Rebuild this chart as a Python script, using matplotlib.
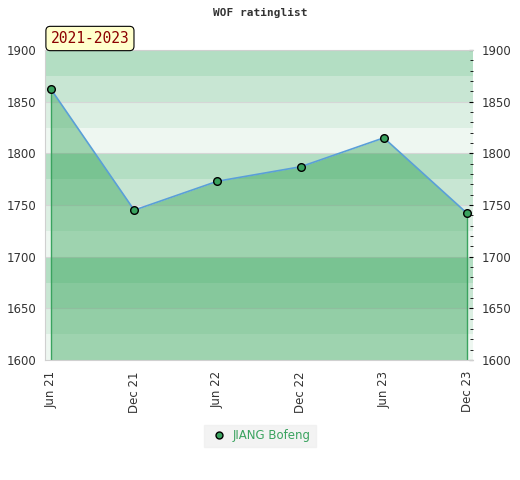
import matplotlib.pyplot as plt
from matplotlib.ticker import MultipleLocator
from matplotlib.lines import Line2D

# rating history
periods = ['Jun 21', 'Dec 21', 'Jun 22', 'Dec 22', 'Jun 23', 'Dec 23']
ratings = [1862, 1745, 1773, 1787, 1815, 1742]
player = 'JIANG Bofeng'
span_label = '2021-2023'

y_min, y_max = 1600, 1900
band_colors = ['#eef7f1', '#dcefe3', '#c8e6d3', '#b3dec3']  # 00-25, 25-50, 50-75, 75-100

fig = plt.figure(figsize=(5.2, 4.8), dpi=100)
ax = fig.add_axes([45 / 520, 1 - 360 / 480, 428 / 520, 310 / 480])

# striped background, 25 points per band
for lo in range(y_min, y_max, 25):
    ax.axhspan(lo, lo + 25, color=band_colors[(lo % 100) // 25], lw=0, zorder=0)
for g in range(y_min + 50, y_max + 1, 50):
    ax.axhline(g, color='#d6d6d6', lw=0.8, zorder=0.5)

x = list(range(len(periods)))
ax.fill_between(x, ratings, y_min, color='#17963e', alpha=0.37, lw=0, zorder=1)
ax.vlines([x[0], x[-1]], y_min, [ratings[0], ratings[-1]], color='#3aa35f', lw=1, zorder=2)
ax.plot(x, ratings, color='#5a9fd8', lw=1.2, zorder=3)
ax.plot(x, ratings, 'o', ms=5.5, mfc='#3aa35f', mec='black', mew=1, zorder=4)

ax.set_xlim(-0.072, 5.072)
ax.set_ylim(y_min, y_max)
ax.set_xticks(x)
ax.set_xticklabels(periods, rotation=90, fontsize=8.5, color='#333333')
ax.tick_params(axis='x', length=0, pad=8)
ax.yaxis.set_major_locator(MultipleLocator(50))
ax.yaxis.set_minor_locator(MultipleLocator(10))
ax.tick_params(axis='y', which='both', left=False, right=True, labelleft=True,
               labelright=True, labelsize=8.5, labelcolor='#333333', direction='in')
ax.tick_params(axis='y', which='major', length=3, pad=6)
ax.tick_params(axis='y', which='minor', length=2)
for s in ax.spines.values():
    s.set_color('#d0d0d0')
ax.spines['right'].set_visible(False)

fig.text(0.5, 1 - 13 / 480, 'WOF ratinglist', ha='center', va='center',
         fontsize=8, fontweight='bold', family='DejaVu Sans Mono', color='#333333')

ax.text(0.013, 1.0 + 4 / 310, span_label, transform=ax.transAxes, ha='left', va='bottom',
        fontsize=10.5, color='#8b0000', family='DejaVu Sans Mono',
        bbox=dict(boxstyle='round,pad=0.32,rounding_size=0.3', fc='#ffffcc', ec='black', lw=0.8))

handle = Line2D([], [], ls='none', marker='o', ms=5, mfc='#3aa35f', mec='black')
leg = fig.legend([handle], [player], loc='center', bbox_to_anchor=(0.5, 1 - 436 / 480),
                 frameon=True, fontsize=8.5, handletextpad=0.4, borderpad=0.4,
                 handlelength=1.6, fancybox=False)
leg.get_frame().set_facecolor('#f0f0f0')
leg.get_frame().set_edgecolor('#f0f0f0')
for t in leg.get_texts():
    t.set_color('#3aa35f')

fig.savefig('out.png', dpi=100)
